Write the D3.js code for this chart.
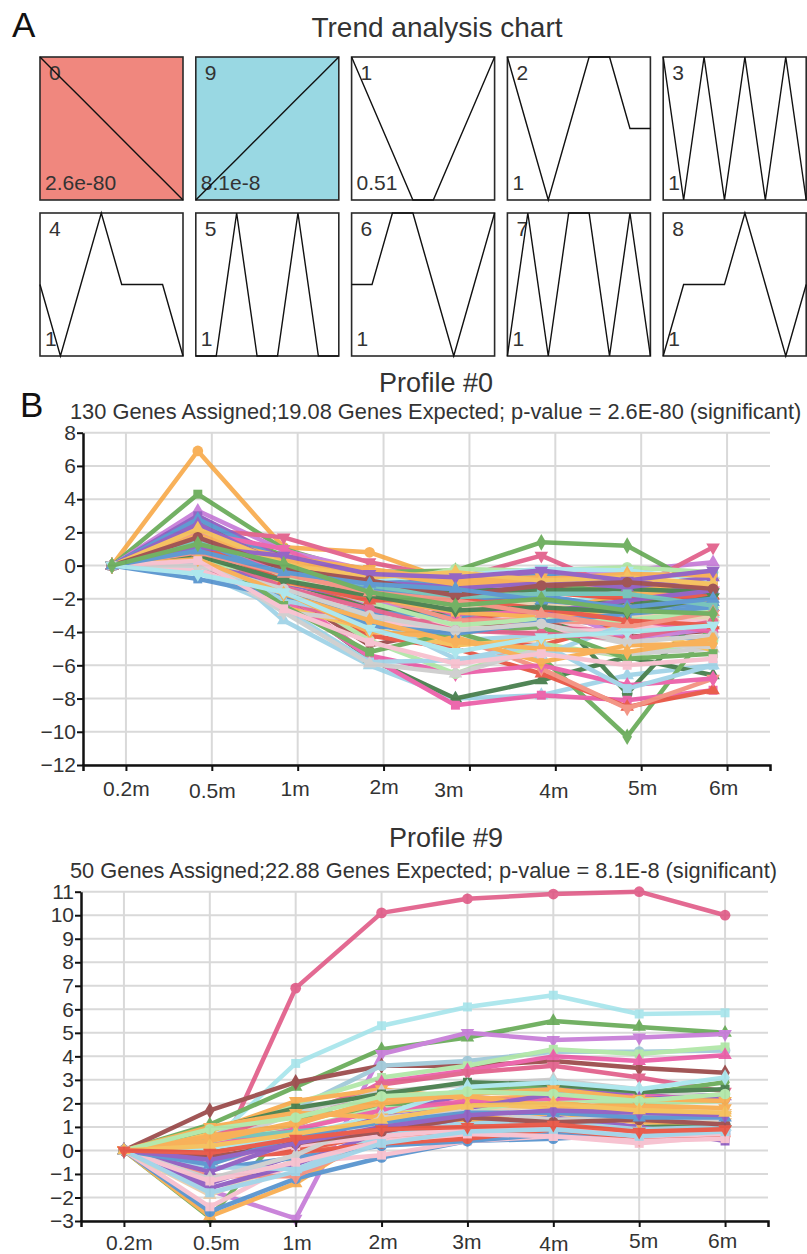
<!DOCTYPE html>
<html>
<head>
<meta charset="utf-8">
<script src="https://cdn.jsdelivr.net/npm/d3@7"></script>
<style>
  body { margin: 0; background: #fff; }
  text { font-family: "Liberation Sans", Arial, sans-serif; fill: #333; }
</style>
</head>
<body>
<div id="chart"></div>
<script>
// =====================================
// DATA
// =====================================

const timeLabels = ["0.2m", "0.5m", "1m", "2m", "3m", "4m", "5m", "6m"];

// model profiles (panel A), in display order
const trendIds = [0, 9, 1, 2, 3, 4, 5, 6, 7, 8];
const trendPvalues = ["2.6e-80", "8.1e-8", "0.51", "1", "1", "1", "1", "1", "1", "1"];
const trendProfiles = [
  [0, -1, -2, -3, -4, -5, -6, -7],
  [0, 1, 2, 3, 4, 5, 6, 7],
  [0, -1, -2, -3, -3, -2, -1, 0],
  [0, -1, -2, -1, 0, 0, -1, -1],
  [0, -1, 0, -1, 0, -1, 0, -1],
  [0, -1, 0, 1, 0, 0, 0, -1],
  [0, 0, 1, 0, 0, 1, 0, 0],
  [0, 0, 1, 1, 0, -1, 0, 1],
  [0, 1, 0, 1, 1, 0, 1, 0],
  [0, 1, 1, 1, 2, 1, 0, 1]
];

// Profile #0 genes
const profile0Ticks = [-12, -10, -8, -6, -4, -2, 0, 2, 4, 6, 8];
const profile0Genes = [
  [0, 6.9, 1.1, 0.8, -1.0, -1.3, -1.2, -0.8],
  [0, 4.3, 1.0, -0.5, -1.2, -1.0, -1.6, -1.8],
  [0, 3.3, 0.9, -0.3, -0.6, -0.5, -0.3, 0.2],
  [0, 2.2, 1.7, 0.2, -0.8, 0.6, -1.6, 1.1],
  [0, 2.6, 0.6, -0.4, -0.3, 1.4, 1.2, -1.6],
  [0, 2.4, 0.5, -0.8, -1.6, -1.3, -1.8, -2.0],
  [0, 3.0, 0.4, -0.6, -0.8, -0.4, -1.1, -1.3],
  [0, 2.8, 0.3, -1.4, -2.3, -1.9, -2.4, -2.2],
  [0, 2.0, 1.0, -1.2, -2.6, -1.5, -2.0, -1.5],
  [0, 1.8, -0.8, -2.2, -3.2, -2.9, -2.2, -1.6],
  [0, 1.0, -0.3, -1.5, -1.8, -2.0, -2.3, -2.0],
  [0, 1.5, 0.2, -1.0, -1.7, -2.4, -1.8, -1.2],
  [0, 1.2, -3.3, -6.0, -8.0, -7.8, -6.6, -6.0],
  [0, -0.2, -2.2, -3.0, -4.5, -4.2, -3.8, -4.5],
  [0, 0.8, -2.3, -2.6, -3.5, -3.0, -3.8, -4.6],
  [0, 0.6, -1.5, -0.8, -1.0, -1.2, -0.9, -1.6],
  [0, 0.3, -1.0, -2.5, -4.6, -4.8, -3.4, -2.4],
  [0, 0.6, -1.8, -5.6, -8.0, -6.9, -5.5, -6.6],
  [0, 1.1, -1.5, -4.8, -3.8, -3.3, -4.3, -3.9],
  [0, 1.5, -1.0, -2.8, -4.0, -5.5, -10.3, -3.5],
  [0, 0.9, -1.2, -2.5, -3.0, -2.0, -7.7, -2.2],
  [0, 0.4, -2.0, -5.5, -8.4, -7.8, -8.1, -7.5],
  [0, 0.2, -1.8, -4.2, -5.0, -6.5, -8.5, -7.5],
  [0, 0.5, -1.2, -3.0, -4.3, -6.2, -8.6, -6.8],
  [0, 0.9, -1.6, -5.4, -6.5, -6.0, -7.2, -6.8],
  [0, 0.7, -1.4, -4.5, -6.5, -4.7, -5.5, -4.5],
  [0, -0.4, -2.6, -5.8, -5.7, -4.7, -7.4, -6.0],
  [0, 0.3, -2.8, -5.9, -6.5, -5.0, -5.3, -5.0],
  [0, -0.3, -1.2, -2.8, -3.5, -3.0, -4.5, -3.2],
  [0, 0.2, -0.8, -1.5, -2.2, -2.5, -1.5, -0.9],
  [0, 0.1, -0.4, -1.2, -0.2, -0.3, -0.1, -0.4],
  [0, 1.0, -0.2, -0.9, -1.2, -0.6, -0.8, -0.4],
  [0, 1.2, -0.8, -1.0, -1.3, -1.1, -0.6, -2.5],
  [0, 1.7, 0.5, -0.2, -0.9, -0.7, -1.5, -1.0],
  [0, 0.8, -2.5, -3.8, -4.8, -4.4, -3.7, -5.1],
  [0, 0.1, -2.0, -3.8, -3.0, -3.7, -4.0, -3.3],
  [0, 2.1, -0.5, -2.3, -2.6, -2.3, -4.4, -3.8],
  [0, 0.4, -0.5, -1.7, -2.3, -1.6, -2.0, -1.8],
  [0, 1.3, -0.3, -1.3, -1.5, -1.5, -1.4, -1.6],
  [0, 0.5, -2.8, -3.3, -4.0, -3.6, -4.7, -4.9],
  [0, 0.2, -1.8, -3.4, -3.7, -3.9, -3.9, -3.1],
  [0, -0.8, -1.9, -2.8, -3.1, -2.2, -3.0, -2.6],
  [0, 0.5, -2.1, -3.1, -5.6, -5.4, -3.5, -2.9],
  [0, 1.9, -0.2, -1.8, -3.3, -3.3, -3.5, -2.9],
  [0, 1.0, -1.6, -4.0, -4.3, -5.8, -4.8, -4.7],
  [0, 1.6, -0.4, -1.7, -2.9, -2.7, -3.2, -4.0],
  [0, 1.1, -2.4, -5.2, -4.0, -3.7, -5.6, -5.3],
  [0, 0.9, -0.6, -2.0, -2.5, -2.2, -3.0, -3.1],
  [0, 0.4, -0.3, -0.8, -0.6, -0.2, -0.3, -0.9],
  [0, 0.2, -1.1, -2.0, -1.9, -2.8, -2.1, -1.5],
  [0, 1.4, -0.6, -1.4, -2.0, -1.8, -2.6, -2.3],
  [0, 0.7, -1.0, -1.9, -2.8, -3.1, -2.6, -2.0],
  [0, 2.5, 0.0, -1.1, -1.4, -0.9, -1.3, -0.7],
  [0, 0.3, -0.7, -2.2, -3.6, -3.2, -3.3, -2.7],
  [0, 1.8, 0.3, -0.4, -1.1, -0.8, -0.5, -0.6],
  [0, 0.9, -1.3, -2.6, -3.9, -4.1, -4.4, -3.4],
  [0, 0.2, -1.5, -3.6, -4.1, -3.4, -2.9, -2.5],
  [0, 1.2, -0.9, -2.1, -2.0, -2.6, -3.3, -3.6],
  [0, 0.6, -0.9, -1.8, -2.7, -2.5, -2.8, -1.9],
  [0, 2.2, 0.1, -0.7, -0.4, -0.9, -0.7, -1.1],
  [0, 0.0, -1.4, -3.0, -3.9, -3.5, -4.6, -4.2],
  [0, 1.5, -0.1, -1.2, -1.9, -1.7, -1.7, -2.4],
  [0, 0.8, -0.5, -1.6, -2.1, -2.9, -3.7, -2.8],
  [0, 1.1, 0.6, -0.5, -0.7, -0.3, -0.9, -0.3],
  [0, 0.4, -1.7, -3.3, -4.6, -5.0, -5.2, -4.4],
  [0, 1.7, -0.2, -0.9, -1.8, -1.2, -1.0, -1.4],
  [0, 0.3, -2.6, -4.6, -5.9, -5.3, -6.0, -5.6],
  [0, 0.9, -0.4, -1.1, -1.4, -2.1, -2.5, -2.0],
  [0, -0.5, -1.6, -3.8, -5.2, -4.3, -4.0, -3.6],
  [0, 1.3, 0.1, -1.6, -2.4, -2.0, -2.7, -2.9]
];

// Profile #9 genes
const profile9Ticks = [-3, -2, -1, 0, 1, 2, 3, 4, 5, 6, 7, 8, 9, 10, 11];
const profile9Genes = [
  [0, -1.1, 6.9, 10.1, 10.7, 10.9, 11.0, 10.0],
  [0, 0.3, 3.7, 5.3, 6.1, 6.6, 5.8, 5.85],
  [0, 1.1, 2.7, 4.3, 4.8, 5.5, 5.25, 5.0],
  [0, -1.7, -2.9, 4.1, 5.0, 4.7, 4.8, 4.95],
  [0, 1.7, 2.9, 3.6, 3.6, 3.8, 3.5, 3.3],
  [0, 0.6, 1.8, 3.6, 3.8, 4.2, 4.2, 4.25],
  [0, 0.5, 2.0, 3.1, 3.6, 4.3, 4.1, 4.4],
  [0, 0.3, 1.0, 2.9, 3.4, 4.0, 3.8, 4.05],
  [0, 0.6, 1.5, 2.8, 3.3, 3.6, 3.1, 2.5],
  [0, -2.85, 1.4, 1.8, 2.6, 2.7, 2.4, 2.9],
  [0, 0.1, 0.2, 0.6, 1.1, 1.2, 1.0, 1.1],
  [0, -1.4, -0.2, 1.5, 2.4, 2.6, 2.3, 2.35],
  [0, -2.8, -1.4, 0.9, 1.8, 2.1, 1.6, 1.7],
  [0, 0.8, 2.1, 2.6, 2.2, 2.3, 1.9, 1.6],
  [0, 0.2, 1.6, 2.5, 2.8, 3.0, 2.6, 2.2],
  [0, -2.6, -1.2, -0.3, 0.4, 0.5, 0.7, 0.8],
  [0, -2.4, -0.5, -0.2, 0.4, 0.6, 0.3, 0.6],
  [0, -1.9, -0.4, 1.2, 1.7, 1.9, 1.5, 1.8],
  [0, -0.2, 0.0, 0.7, 0.6, 1.0, 0.7, 0.9],
  [0, -1.1, -1.1, 0.5, 0.6, 0.8, 0.5, 0.6],
  [0, -0.8, -0.3, 0.2, 0.4, 0.7, 0.6, 0.7],
  [0, -1.6, -0.6, 0.8, 1.3, 1.4, 1.0, 0.4],
  [0, -0.7, -0.8, 0.6, 1.2, 1.2, 0.9, 1.0],
  [0, 0.7, 0.4, 1.6, 2.0, 1.8, 1.8, 1.5],
  [0, 0.4, 0.9, 1.8, 1.7, 2.2, 2.0, 2.1],
  [0, 0.2, 0.9, 1.7, 2.1, 2.2, 2.3, 2.2],
  [0, 0.9, 1.8, 2.4, 2.9, 2.8, 2.5, 2.6],
  [0, 0.5, 0.8, 1.2, 1.4, 1.6, 1.3, 1.2],
  [0, 0.6, 1.1, 2.2, 2.3, 1.9, 1.9, 1.8],
  [0, 0.1, 0.6, 1.5, 2.7, 2.9, 2.6, 3.1],
  [0, -0.3, -0.1, 0.3, 0.5, 0.9, 0.5, 0.6],
  [0, -0.5, 0.2, 0.6, 0.9, 1.0, 0.6, 0.7],
  [0, -0.9, 0.4, 1.4, 1.8, 2.4, 2.2, 2.3],
  [0, 1.0, 1.6, 1.4, 1.3, 1.6, 1.2, 1.2],
  [0, -1.2, -0.2, 1.4, 1.7, 1.3, 1.4, 1.3],
  [0, -0.3, 0.3, 0.8, 1.4, 1.2, 1.3, 1.1],
  [0, -1.3, -0.5, 0.4, 0.7, 0.6, 0.4, 0.5],
  [0, -0.6, 0.6, 1.2, 1.6, 1.6, 1.4, 1.4],
  [0, 0.4, 1.2, 2.0, 2.4, 2.6, 2.2, 2.1],
  [0, -0.4, 0.3, 1.0, 1.5, 1.7, 1.6, 1.5],
  [0, 0.9, 1.4, 2.3, 2.5, 2.4, 2.1, 2.4],
  [0, -1.8, -0.9, 0.3, 0.8, 0.9, 0.6, 0.8],
  [0, 0.2, 0.7, 1.3, 1.9, 2.0, 1.7, 1.6],
  [0, -0.1, 0.5, 0.9, 1.0, 1.1, 0.8, 0.9]
];

// =====================================
// STYLE
// =====================================

const palette = {
  orange: "#f7a136", green: "#55a043", purple: "#7e45b8", orchid: "#bf6bd3",
  crimson: "#de4a7b", magenta: "#e8479c", red: "#e53b28", blue: "#3f84c8",
  sky: "#92cde4", cyan: "#9de2ea", dkgreen: "#2b6b31", maroon: "#8d3232",
  ltgreen: "#a5e39b", gray: "#c6c6c6", ltpink: "#f6b7c7", tan: "#e6c8a2",
  salmon: "#f17f6c", teal: "#5cb8ad", gold: "#f4b540", steel: "#93c2d4"
};

const colors0 = [
  "orange", "green", "orchid", "crimson", "green", "maroon", "purple", "blue",
  "magenta", "red", "dkgreen", "orange", "sky", "sky", "blue", "purple",
  "red", "dkgreen", "maroon", "green", "dkgreen", "magenta", "red", "salmon",
  "magenta", "ltgreen", "sky", "gray", "ltpink", "cyan", "ltgreen", "blue",
  "purple", "orange", "gold", "crimson", "orchid", "red", "dkgreen", "gray",
  "ltpink", "blue", "sky", "salmon", "orange", "magenta", "green", "tan",
  "cyan", "purple",
  "blue", "orange", "purple", "ltgreen", "orange", "crimson", "blue", "red",
  "dkgreen", "gold", "gray", "teal", "salmon", "purple", "orange", "maroon",
  "ltpink", "blue", "cyan", "green"
];

const colors9 = [
  "crimson", "cyan", "green", "orchid", "maroon", "steel", "ltgreen", "magenta",
  "crimson", "green", "dkgreen", "purple", "orange", "orange", "gray", "blue",
  "ltpink", "tan", "red", "salmon", "blue", "purple", "sky", "gold",
  "ltgreen", "magenta", "dkgreen", "teal", "orange", "cyan", "red", "ltpink",
  "purple", "orange", "gray", "maroon", "ltpink", "blue",
  "orange", "purple", "ltgreen", "sky", "gold", "red"
];

const shapes = ["circle", "square", "triangle", "triangleDown", "diamond"];
const symbolTypes = {
  circle: d3.symbolCircle, square: d3.symbolSquare, triangle: d3.symbolTriangle,
  triangleDown: d3.symbolTriangle, diamond: d3.symbolDiamond
};

// =====================================
// SVG
// =====================================

const W = 807, H = 1254;

const svg = d3.select("#chart")
  .append("svg")
  .attr("width", W)
  .attr("height", H);

svg.append("text")
  .attr("x", 12).attr("y", 37)
  .style("font-size", "35px")
  .style("fill", "#111")
  .text("A");

svg.append("text")
  .attr("x", 20).attr("y", 417)
  .style("font-size", "35px")
  .style("fill", "#111")
  .text("B");

svg.append("text")
  .attr("x", 437).attr("y", 37)
  .attr("text-anchor", "middle")
  .style("font-size", "28px")
  .text("Trend analysis chart");

// =====================================
// PANEL A - MODEL PROFILES
// =====================================

const box = 143;

trendIds.forEach((id, i) => {
  const bx = 40 + (i % 5) * 155.8;
  const by = 57 + Math.floor(i / 5) * 156;
  const vals = trendProfiles[i];

  const fill = id === 0 ? "#f0877e" : id === 9 ? "#99d8e3" : "#fff";

  const g = svg.append("g");

  g.append("rect")
    .attr("x", bx).attr("y", by)
    .attr("width", box).attr("height", box)
    .attr("fill", fill)
    .attr("stroke", "#2a2a2a")
    .attr("stroke-width", 1.6);

  const px = d3.scaleLinear().domain([0, vals.length - 1]).range([bx, bx + box]);
  const py = d3.scaleLinear().domain(d3.extent(vals)).range([by + box, by]);

  g.append("text")
    .attr("x", bx + 9).attr("y", by + 23)
    .style("font-size", "21px")
    .text(id);

  g.append("text")
    .attr("x", bx + 5).attr("y", by + 133)
    .style("font-size", "21px")
    .text(trendPvalues[i]);

  g.append("path")
    .datum(vals)
    .attr("fill", "none")
    .attr("stroke", "#111")
    .attr("stroke-width", 1.4)
    .attr("d", d3.line().x((d, j) => px(j)).y(d => py(d)));
});

// =====================================
// PANEL B - PROFILE CHARTS
// =====================================

function drawProfile(cfg) {
  const x = d3.scaleLinear().domain([-0.5, 7.5]).range([cfg.left, cfg.right]);
  const y = d3.scaleLinear().domain(d3.extent(cfg.ticks)).range([cfg.bottom, cfg.top]);

  svg.append("text")
    .attr("x", cfg.titleX).attr("y", cfg.titleY)
    .attr("text-anchor", "middle")
    .style("font-size", "27px")
    .text(cfg.title);

  svg.append("text")
    .attr("x", 70).attr("y", cfg.titleY + cfg.subGap)
    .style("font-size", "21.8px")
    .text(cfg.subtitle);

  // grid
  const grid = svg.append("g")
    .attr("stroke", "#d9d9d9")
    .attr("stroke-width", 2);

  grid.selectAll(".h")
    .data(cfg.ticks)
    .enter()
    .append("line")
    .attr("x1", cfg.left).attr("x2", cfg.right)
    .attr("y1", d => y(d)).attr("y2", d => y(d));

  grid.selectAll(".v")
    .data(d3.range(timeLabels.length))
    .enter()
    .append("line")
    .attr("x1", d => x(d)).attr("x2", d => x(d))
    .attr("y1", cfg.top).attr("y2", cfg.bottom);

  // gene lines
  const line = d3.line()
    .x((d, j) => x(j) + cfg.shift)
    .y(d => y(d));

  const genes = svg.append("g").attr("opacity", 0.82);

  cfg.genes.forEach((vals, k) => {
    const c = palette[cfg.colors[k % cfg.colors.length]];
    const shape = shapes[k % shapes.length];
    const gg = genes.append("g");

    gg.append("path")
      .datum(vals)
      .attr("fill", "none")
      .attr("stroke", c)
      .attr("stroke-width", 4.5)
      .attr("stroke-linejoin", "round")
      .attr("d", line);

    gg.selectAll("path.pt")
      .data(vals)
      .enter()
      .append("path")
      .attr("class", "pt")
      .attr("fill", c)
      .attr("d", d3.symbol().type(symbolTypes[shape]).size(shape === "circle" ? 90 : 80))
      .attr("transform", (d, j) =>
        `translate(${x(j) + cfg.shift},${y(d)})` + (shape === "triangleDown" ? " rotate(180)" : "")
      );
  });

  // axes
  const yAxis = svg.append("g")
    .attr("transform", `translate(${cfg.left},0)`)
    .call(d3.axisLeft(y).tickValues(cfg.ticks).tickSize(6).tickSizeOuter(0));

  const xAxis = svg.append("g")
    .attr("transform", `translate(0,${cfg.bottom})`)
    .call(d3.axisBottom(x).tickValues(d3.range(timeLabels.length))
      .tickFormat(i => timeLabels[i]).tickSize(6).tickSizeOuter(6));

  [yAxis, xAxis].forEach(a => {
    a.attr("font-family", null).attr("font-size", null);
    a.select(".domain").attr("stroke", "#111").attr("stroke-width", 2.5);
    a.selectAll(".tick line").attr("stroke", "#111").attr("stroke-width", 2);
    a.selectAll(".tick text").attr("fill", "#333");
  });

  yAxis.selectAll(".tick text")
    .style("font-size", "21px")
    .attr("x", -7);

  xAxis.selectAll(".tick text")
    .style("font-size", "21px")
    .attr("dy", null)
    .attr("y", (d, i) => cfg.labelY + cfg.nudgeY[i])
    .attr("dx", (d, i) => cfg.nudgeX[i]);
}

drawProfile({
  title: "Profile #0",
  subtitle: "130 Genes Assigned;19.08 Genes Expected; p-value = 2.6E-80 (significant)",
  titleX: 436, titleY: 392, subGap: 27,
  top: 432.7, bottom: 765, left: 83, right: 770,
  ticks: profile0Ticks,
  genes: profile0Genes, colors: colors0,
  shift: -14,
  labelY: 31,
  nudgeX: [0, 0, -3, 0, -21, -2, 1, -4],
  nudgeY: [0, 2, 0, -2, 1, 2, -1, -1]
});

drawProfile({
  title: "Profile #9",
  subtitle: "50 Genes Assigned;22.88 Genes Expected; p-value = 8.1E-8 (significant)",
  titleX: 446, titleY: 847, subGap: 31,
  top: 891.7, bottom: 1221, left: 81, right: 768,
  ticks: profile9Ticks,
  genes: profile9Genes, colors: colors9,
  shift: 0,
  labelY: 29,
  nudgeX: [5, 6, 1, 1, -1, 0, 4, -3],
  nudgeY: [0, 0, 0, -1, -1, 1, -2, -2]
});
</script>
</body>
</html>
